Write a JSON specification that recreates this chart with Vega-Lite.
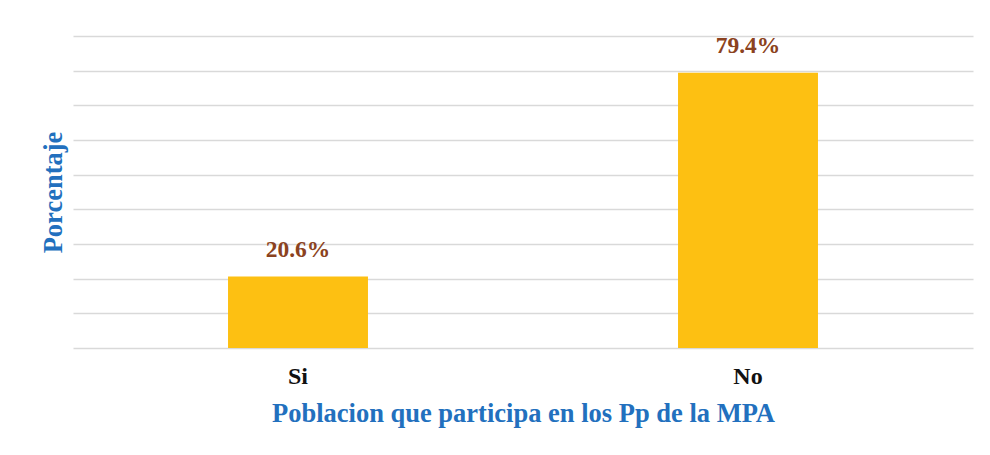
{
  "$schema": "https://vega.github.io/schema/vega-lite/v6.json",
  "autosize": {"type": "none"},
  "width": 900,
  "height": 312,
  "padding": {"left": 73, "top": 36, "right": 17, "bottom": 107},
  "background": "white",
  "config": {"view": {"stroke": null}, "font": "Liberation Serif"},
  "data": {"values": [
    {"respuesta": "Si", "porcentaje": 0.206},
    {"respuesta": "No", "porcentaje": 0.794}
  ]},
  "encoding": {
    "x": {
      "field": "respuesta", "type": "nominal", "sort": ["Si", "No"],
      "scale": {"paddingInner": 0, "paddingOuter": 0},
      "axis": {
        "title": "Poblacion que participa en los Pp de la MPA",
        "titleFont": "Liberation Serif", "titleFontSize": 26.5, "titleFontWeight": "bold",
        "titleColor": "#2270BE", "titlePadding": 12,
        "labelFont": "Liberation Serif", "labelFontSize": 24, "labelFontWeight": "bold",
        "labelColor": "#111111", "labelAngle": 0, "labelPadding": 16,
        "ticks": false, "domain": false, "grid": false
      }
    },
    "y": {
      "field": "porcentaje", "type": "quantitative",
      "scale": {"domain": [0, 0.9], "nice": false},
      "axis": {
        "title": "Porcentaje",
        "titleFont": "Liberation Serif", "titleFontSize": 26.5, "titleFontWeight": "bold",
        "titleColor": "#2270BE", "titlePadding": 6,
        "values": [0, 0.1, 0.2, 0.3, 0.4, 0.5, 0.6, 0.7, 0.8, 0.9],
        "labels": false, "ticks": false, "domain": false,
        "grid": true, "gridColor": "#D9D9D9", "gridWidth": 1.5
      }
    }
  },
  "layer": [
    {"mark": {"type": "bar", "width": {"band": 0.311}, "color": "#FDC012"}},
    {
      "mark": {"type": "text", "baseline": "bottom", "dy": -15, "font": "Liberation Serif",
               "fontSize": 23.5, "fontWeight": "bold", "color": "#8B4220"},
      "encoding": {"text": {"field": "porcentaje", "type": "quantitative", "format": ".1%"}}
    }
  ]
}
